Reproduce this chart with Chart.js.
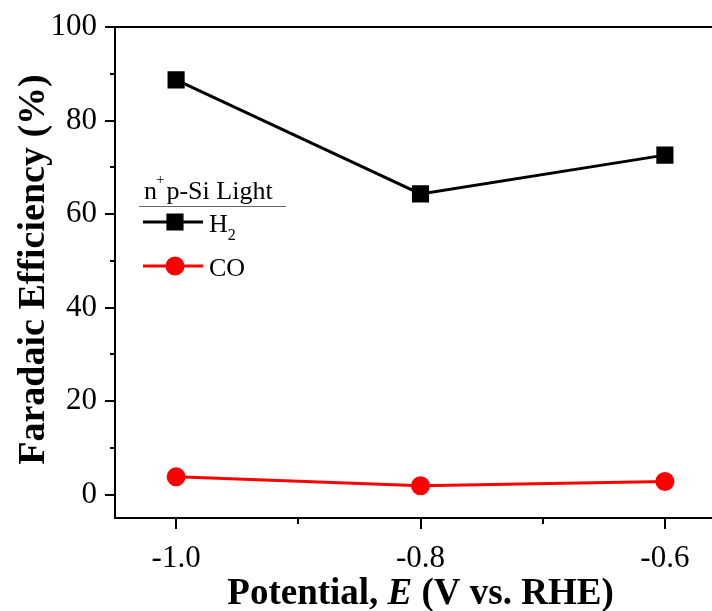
<!DOCTYPE html>
<html>
<head>
<meta charset="utf-8">
<script src="https://cdn.jsdelivr.net/npm/chart.js@4/dist/chart.umd.min.js"></script>
<style>
  html, body { margin: 0; padding: 0; background: #fff; overflow: hidden; }
  #wrap { width: 740px; height: 611px; }
</style>
</head>
<body>
<div id="wrap"><canvas id="feChart" width="740" height="611"></canvas></div>
<script>
// Data
const potentials = [-1.0, -0.8, -0.6];
const h2Efficiency = [88.7, 64.3, 72.6];
const coEfficiency = [3.8, 1.9, 2.8];
const xTickLabels = ['-1.0', '-0.8', '-0.6'];
const xMinorTicks = [-0.9, -0.7];
const yTickLabels = ['0', '20', '40', '60', '80', '100'];
const yMinorTicks = [10, 30, 50, 70, 90];

const serif = "'Liberation Serif', 'DejaVu Serif', serif";

// ticks, top frame line, axis titles and the inset legend
const decorations = {
    id: 'decorations',
    afterDraw(chart) {
        const ctx = chart.ctx;
        const area = chart.chartArea;
        const xs = chart.scales.x;
        const ys = chart.scales.y;
        ctx.save();
        ctx.strokeStyle = '#000';
        ctx.lineWidth = 2;

        // top frame
        ctx.beginPath();
        ctx.moveTo(area.left - 1, area.top);
        ctx.lineTo(area.right, area.top);
        ctx.stroke();

        // x ticks (outside)
        const xTick = (v, len) => {
            const px = Math.round(xs.getPixelForValue(v));
            ctx.beginPath();
            ctx.moveTo(px, area.bottom);
            ctx.lineTo(px, area.bottom + len);
            ctx.stroke();
        };
        xTickLabels.forEach(t => xTick(Number(t), 11));
        xMinorTicks.forEach(v => xTick(v, 6));

        // y ticks (outside)
        const yTick = (v, len) => {
            const py = Math.round(ys.getPixelForValue(v));
            ctx.beginPath();
            ctx.moveTo(area.left, py);
            ctx.lineTo(area.left - len, py);
            ctx.stroke();
        };
        yTickLabels.forEach(t => yTick(Number(t), 10));
        yMinorTicks.forEach(v => yTick(v, 5));

        // x title with italic E
        ctx.fillStyle = '#000';
        ctx.textBaseline = 'alphabetic';
        const parts = [
            ['Potential, ', 'bold'],
            ['E', 'italic bold'],
            [' (V vs. RHE)', 'bold']
        ];
        let total = 0;
        parts.forEach(p => {
            ctx.font = p[1] + ' 37px ' + serif;
            total += ctx.measureText(p[0]).width;
        });
        let tx = (area.left + area.right) / 2 - total / 2;
        parts.forEach(p => {
            ctx.font = p[1] + ' 37px ' + serif;
            ctx.textAlign = 'left';
            ctx.fillText(p[0], tx, 604);
            tx += ctx.measureText(p[0]).width;
        });

        // y title
        ctx.save();
        ctx.translate(44, (area.top + area.bottom) / 2 - 3);
        ctx.rotate(-Math.PI / 2);
        ctx.font = 'bold 38px ' + serif;
        ctx.textAlign = 'center';
        ctx.fillText('Faradaic Efficiency (%)', 0, 0);
        ctx.restore();

        // legend
        ctx.textAlign = 'left';
        ctx.font = '26px ' + serif;
        let lx = 144;
        ctx.fillText('n', lx, 199);
        lx += ctx.measureText('n').width;
        ctx.font = '15px ' + serif;
        ctx.fillText('+', lx - 1, 184);
        lx += ctx.measureText('+').width + 1;
        ctx.font = '26px ' + serif;
        ctx.fillText('p-Si Light', lx, 199);

        ctx.lineWidth = 1;
        ctx.strokeStyle = '#666';
        ctx.beginPath();
        ctx.moveTo(139, 206.5);
        ctx.lineTo(286, 206.5);
        ctx.stroke();

        const entries = [
            { ds: chart.data.datasets[0], y: 222, text: 'H', sub: '2' },
            { ds: chart.data.datasets[1], y: 266, text: 'CO', sub: '' }
        ];
        entries.forEach(e => {
            ctx.strokeStyle = e.ds.borderColor;
            ctx.lineWidth = e.ds.borderWidth;
            ctx.beginPath();
            ctx.moveTo(143, e.y);
            ctx.lineTo(203, e.y);
            ctx.stroke();
            Chart.helpers.drawPoint(ctx, {
                pointStyle: e.ds.pointStyle,
                radius: e.ds.pointRadius,
                borderWidth: 1
            }, 175, e.y);
            ctx.fillStyle = e.ds.pointBackgroundColor;
            ctx.fill();
            ctx.fillStyle = '#000';
            ctx.font = '26px ' + serif;
            ctx.fillText(e.text, 209, e.y + 10);
            if (e.sub) {
                const w = ctx.measureText(e.text).width;
                ctx.font = '16px ' + serif;
                ctx.fillText(e.sub, 209 + w, e.y + 18);
            }
        });
        ctx.restore();
    }
};

const ctx = document.getElementById('feChart').getContext('2d');
const feChart = new Chart(ctx, {
    type: 'line',
    data: {
        labels: potentials,
        datasets: [{
            label: 'H2',
            data: potentials.map((x, i) => ({ x: x, y: h2Efficiency[i] })),
            borderColor: '#000',
            backgroundColor: '#000',
            pointBackgroundColor: '#000',
            pointBorderColor: '#000',
            borderWidth: 3,
            pointStyle: 'rect',
            pointRadius: 10,
            tension: 0
        }, {
            label: 'CO',
            data: potentials.map((x, i) => ({ x: x, y: coEfficiency[i] })),
            borderColor: '#ff0000',
            backgroundColor: '#ff0000',
            pointBackgroundColor: '#ff0000',
            pointBorderColor: '#ff0000',
            borderWidth: 3,
            pointStyle: 'circle',
            pointRadius: 8,
            tension: 0
        }]
    },
    options: {
        responsive: false,
        animation: false,
        layout: { padding: { top: 27, right: 14, left: 0, bottom: 0 } },
        plugins: {
            legend: { display: false },
            tooltip: { enabled: false }
        },
        scales: {
            x: {
                type: 'linear',
                min: -1.05,
                max: -0.55,
                afterBuildTicks: s => { s.ticks = xTickLabels.map(t => ({ value: Number(t) })); },
                afterFit: s => { s.height = 93; s.paddingLeft = 0; s.paddingRight = 0; },
                grid: { display: false },
                border: { display: true, color: '#000', width: 2 },
                ticks: {
                    color: '#000',
                    padding: 14,
                    font: { family: serif, size: 31 },
                    callback: v => Number(v).toFixed(1)
                }
            },
            y: {
                min: -5,
                max: 100,
                afterBuildTicks: s => { s.ticks = yTickLabels.map(t => ({ value: Number(t) })); },
                afterFit: s => { s.width = 115; s.paddingTop = 0; s.paddingBottom = 0; },
                grid: { display: false },
                border: { display: true, color: '#000', width: 2 },
                ticks: {
                    color: '#000',
                    padding: 10,
                    font: { family: serif, size: 31 },
                    callback: v => String(v)
                }
            }
        }
    },
    plugins: [decorations]
});
</script>
</body>
</html>
